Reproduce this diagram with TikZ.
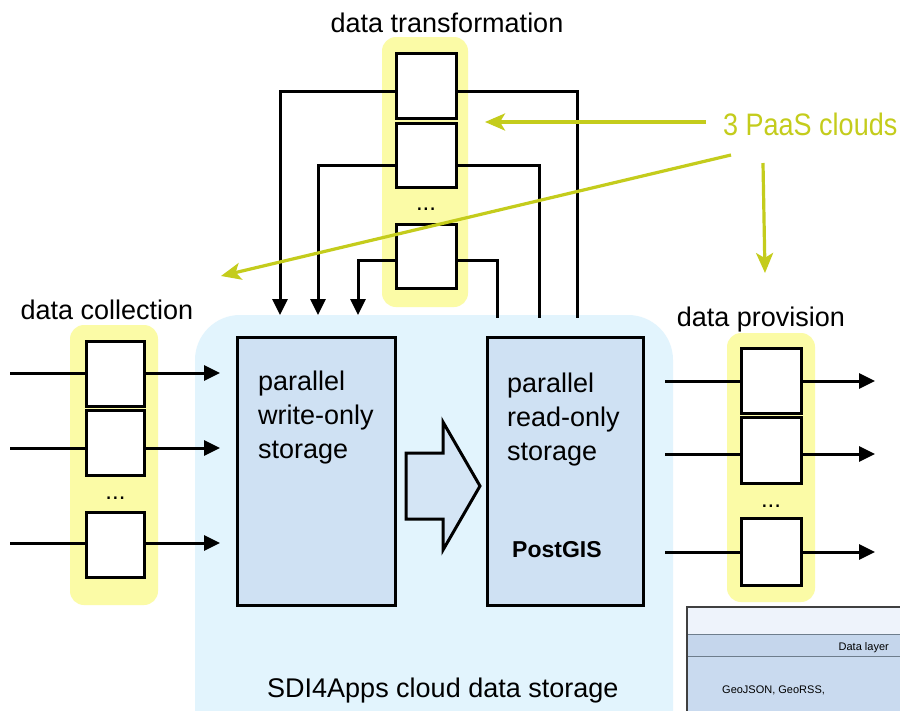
\documentclass[tikz,border=0pt]{standalone}
\usepackage{fontspec}
\setmainfont{Liberation Sans}
\usetikzlibrary{arrows.meta,calc}
\definecolor{cloudblue}{RGB}{226,244,253}
\definecolor{storeblue}{RGB}{207,225,243}
\definecolor{arrowblue}{RGB}{212,229,245}
\definecolor{hiyellow}{RGB}{251,251,166}
\definecolor{paasgreen}{RGB}{196,204,28}
\definecolor{insettop}{RGB}{238,243,251}
\definecolor{insetband}{RGB}{197,214,236}
\definecolor{insetbody}{RGB}{201,218,239}
\definecolor{insetline}{RGB}{110,125,140}
\begin{document}
\begin{tikzpicture}[x=1pt,y=-1pt,
  lbl/.style={font=\fontsize{27}{34}\selectfont, inner sep=0},
  dots/.style={font=\fontsize{24}{24}\selectfont, inner sep=0, anchor=base},
  procbox/.style={draw=black, fill=white, line width=3pt, minimum width=58pt, inner sep=0, outer sep=0},
  storebox/.style={draw=black, fill=storeblue, line width=3pt, inner sep=0, outer sep=0},
  hilite/.style={fill=hiyellow, rounded corners=14pt},
  flow/.style={line width=3pt, draw=black},
  flowarrow/.style={flow, -{Triangle[length=16pt,width=15pt]}},
  paas/.style={draw=paasgreen, line width=3.2pt, -{Stealth[length=20pt,width=17pt,inset=5pt]}},
  smalltext/.style={font=\fontsize{11}{13}\selectfont, inner sep=0}
]
\clip (0,0) rectangle (900,710);
\fill[white] (0,0) rectangle (900,710);

% cloud storage region
\node[fill=cloudblue, rounded corners=45pt, minimum width=478pt, minimum height=445pt, inner sep=0, outer sep=0] (cloud) at (434,537.5) {};

% highlight columns
\fill[hilite] (70,325) rectangle (158,605);
\fill[hilite] (382,37) rectangle (468,307);
\fill[hilite] (727,333) rectangle (815,602);

% storage boxes
\node[storebox, minimum width=158pt, minimum height=268pt] (ws) at (316,471) {};
\node[storebox, minimum width=156pt, minimum height=268pt] (rs) at (565,471) {};
\node[lbl, anchor=north west, align=left] (wstext) at (258,370.5) {parallel\\write-only\\storage};
\node[lbl, anchor=north west, align=left] (rstext) at (507,372.5) {parallel\\read-only\\storage};
\node[font=\fontsize{23}{23}\selectfont\bfseries, inner sep=0, anchor=base west] (pg) at (512,557) {PostGIS};

% big arrow between storages
\draw[line width=3pt, fill=arrowblue, line join=miter]
  (406,453) -- (443,453) -- (443,422) -- (480,486) -- (443,550) -- (443,519) -- (406,519) -- cycle;

% labels
\node[lbl, anchor=base] (ttl) at (447,32) {data transformation};
\node[lbl, anchor=base] (ctl) at (107,319) {data collection};
\node[lbl, anchor=base] (ptl) at (761,326) {data provision};
\node[lbl, anchor=base west] (sdi) at (267,697) {SDI4Apps cloud data storage};

% data collection
\node[procbox, minimum height=65pt] (c1) at (115.5,373.5) {};
\node[procbox, minimum height=65pt] (c2) at (115.5,442.5) {};
\node[procbox, minimum height=65pt] (c3) at (115.5,544.5) {};
\node[dots] (cdots) at (115.5,499) {...};
\coordinate (cin1) at (10,373);
\coordinate (cin2) at (10,448);
\coordinate (cin3) at (10,543);
\foreach \i in {1,2,3}{
  \draw[flow] (cin\i) -- (cin\i -| c\i.west);
  \draw[flowarrow, shorten >=17pt] (cin\i -| c\i.east) -- (cin\i -| ws.west);
}

% data transformation
\node[procbox, minimum width=60pt, minimum height=65pt] (t1) at (426,85.5) {};
\node[procbox, minimum width=60pt, minimum height=64pt] (t2) at (426,155) {};
\node[procbox, minimum width=60pt, minimum height=64pt] (t3) at (426,256) {};
\node[dots] (tdots) at (426,210) {...};
\coordinate (tl1) at (280,91);
\coordinate (tl2) at (318,165);
\coordinate (tl3) at (358,260);
\coordinate (tr1) at (577,91);
\coordinate (tr2) at (539,165);
\coordinate (tr3) at (497,260);
\foreach \i in {1,2,3}{
  \draw[flowarrow] (t\i.west |- tl\i) -- (tl\i) -- (tl\i |- cloud.north);
  \draw[flow] (t\i.east |- tr\i) -- (tr\i) -- ($(tr\i |- cloud.north)+(0,3)$);
}

% data provision
\node[procbox, minimum width=60pt, minimum height=65pt] (p1) at (771,380.5) {};
\node[procbox, minimum width=60pt, minimum height=66pt] (p2) at (771,450) {};
\node[procbox, minimum width=60pt, minimum height=67pt] (p3) at (771,551.5) {};
\node[dots] (pdots) at (771,507) {...};
\coordinate (pl1) at (665,381);
\coordinate (pl2) at (665,454);
\coordinate (pl3) at (665,552);
\coordinate (po1) at (875,381);
\coordinate (po2) at (875,454);
\coordinate (po3) at (875,552);
\foreach \i in {1,2,3}{
  \draw[flow] (pl\i) -- (pl\i -| p\i.west);
  \draw[flowarrow] (pl\i -| p\i.east) -- (po\i);
}

% PaaS clouds annotation
\node[lbl, text=paasgreen, anchor=base west] (paastext) at (723,135) {\scalebox{1}[1.15]{3 PaaS clouds}};
\coordinate (g1s) at (706,122);
\coordinate (g1e) at (485,122);
\coordinate (g2s) at (731,155);
\coordinate (g2e) at (221,276);
\coordinate (g3s) at (763,163);
\coordinate (g3e) at (765,273);
\draw[paas] (g1s) -- (g1e);
\draw[paas] (g2s) -- (g2e);
\draw[paas] (g3s) -- (g3e);

% inset (cropped screenshot)
\fill[insettop] (687,607) rectangle (905,634);
\fill[insetband] (687,634) rectangle (905,656);
\fill[insetbody] (687,656) rectangle (905,715);
\draw[insetline, line width=1pt] (687,634) -- (905,634);
\draw[insetline, line width=1pt] (687,656) -- (905,656);
\draw[black!75, line width=1.5pt] (687,715) -- (687,607) -- (905,607);
\node[smalltext, anchor=base east] (dl) at (889,650) {Data layer};
\node[smalltext, anchor=base west] (gj) at (722,693) {GeoJSON, GeoRSS,};
\end{tikzpicture}
\end{document}
